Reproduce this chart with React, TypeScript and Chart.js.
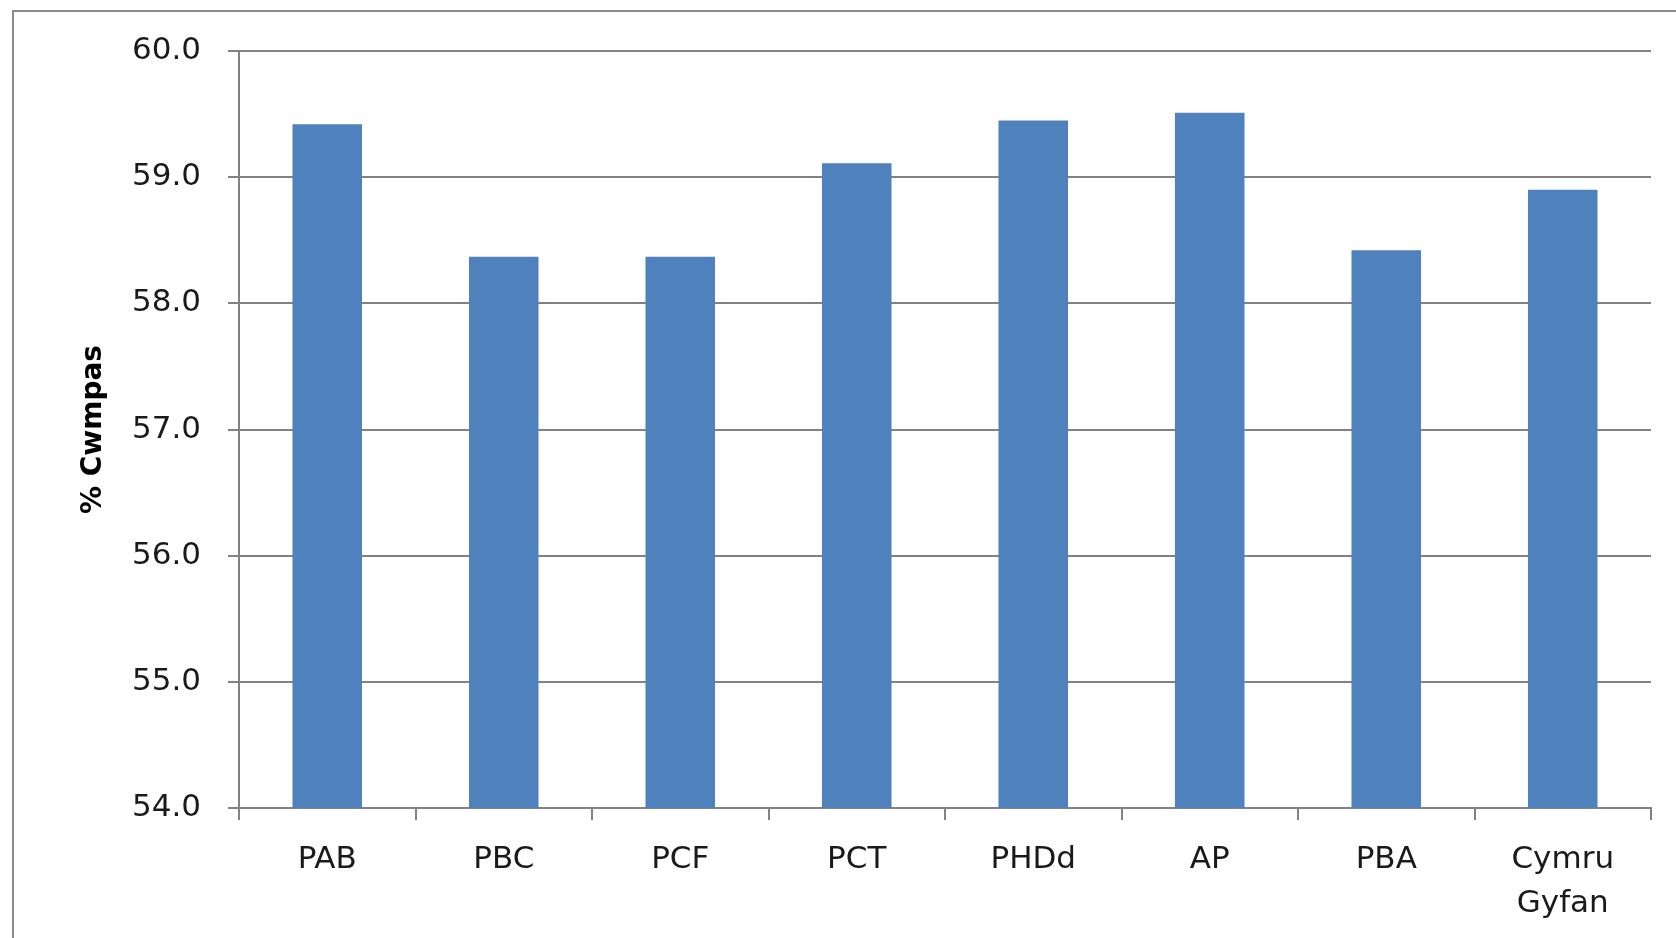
import React, { useEffect, useRef } from "react";
import { Chart, registerables } from "chart.js";

Chart.register(...registerables);

const categories: (string | string[])[] = ["PAB", "PBC", "PCF", "PCT", "PHDd", "AP", "PBA", ["Cymru", "Gyfan"]];
const values: number[] = [59.42, 58.37, 58.37, 59.11, 59.45, 59.51, 58.42, 58.9];
const yMin = 54;
const yMax = 60;
const yStep = 1;
const yTitle = "% Cwmpas";

export default function App() {
  const ref = useRef<HTMLCanvasElement>(null);

  useEffect(() => {
    if (!ref.current) return;
    const gray = "#828282";
    const chart = new Chart(ref.current, {
      type: "bar",
      data: {
        labels: categories,
        datasets: [
          {
            data: values,
            backgroundColor: "#4F81BD",
            borderWidth: 0,
            barPercentage: 0.394,
            categoryPercentage: 1,
          },
        ],
      },
      options: {
        animation: false,
        responsive: false,
        maintainAspectRatio: false,
        devicePixelRatio: 1,
        layout: { padding: { left: 77, top: 51, right: 25, bottom: 0 } },
        plugins: { legend: { display: false }, tooltip: { enabled: false } },
        scales: {
          x: {
            afterFit: (s: any) => {
              s.height = 130;
            },
            grid: {
              drawOnChartArea: false,
              drawTicks: true,
              tickLength: 12,
              color: gray,
              lineWidth: 2,
              offset: true,
            },
            border: { display: true, color: gray, width: 2 },
            ticks: {
              color: "#1a1a1a",
              font: { family: "DejaVu Sans", size: 31, lineHeight: 1.45 },
              padding: 17,
              maxRotation: 0,
              autoSkip: false,
            },
          },
          y: {
            min: yMin,
            max: yMax,
            afterFit: (s: any) => {
              s.width = 162;
            },
            grid: {
              color: gray,
              lineWidth: 2,
              drawTicks: true,
              tickLength: 11,
            },
            border: { display: true, color: gray, width: 2 },
            ticks: {
              stepSize: yStep,
              color: "#1a1a1a",
              font: { family: "DejaVu Sans", size: 31 },
              padding: 27,
              callback: (v: any) => Number(v).toFixed(1),
            },
            title: {
              display: true,
              text: yTitle,
              color: "#000",
              padding: 0,
              font: { family: "DejaVu Sans", size: 28, weight: "bold", lineHeight: 1.2 },
            },
          },
        },
      },
    });
    return () => chart.destroy();
  }, []);

  return (
    <div
      style={{
        position: "fixed",
        left: 0,
        top: 0,
        width: 1676,
        height: 938,
        overflow: "hidden",
        background: "#fff",
      }}
    >
      <div
        style={{
          position: "absolute",
          left: 12,
          top: 10,
          width: 1720,
          height: 1000,
          border: "2px solid #8a8a8a",
          boxSizing: "border-box",
        }}
      />
      <canvas ref={ref} width={1676} height={938} style={{ position: "absolute", left: 0, top: 0, width: 1676, height: 938 }} />
    </div>
  );
}
